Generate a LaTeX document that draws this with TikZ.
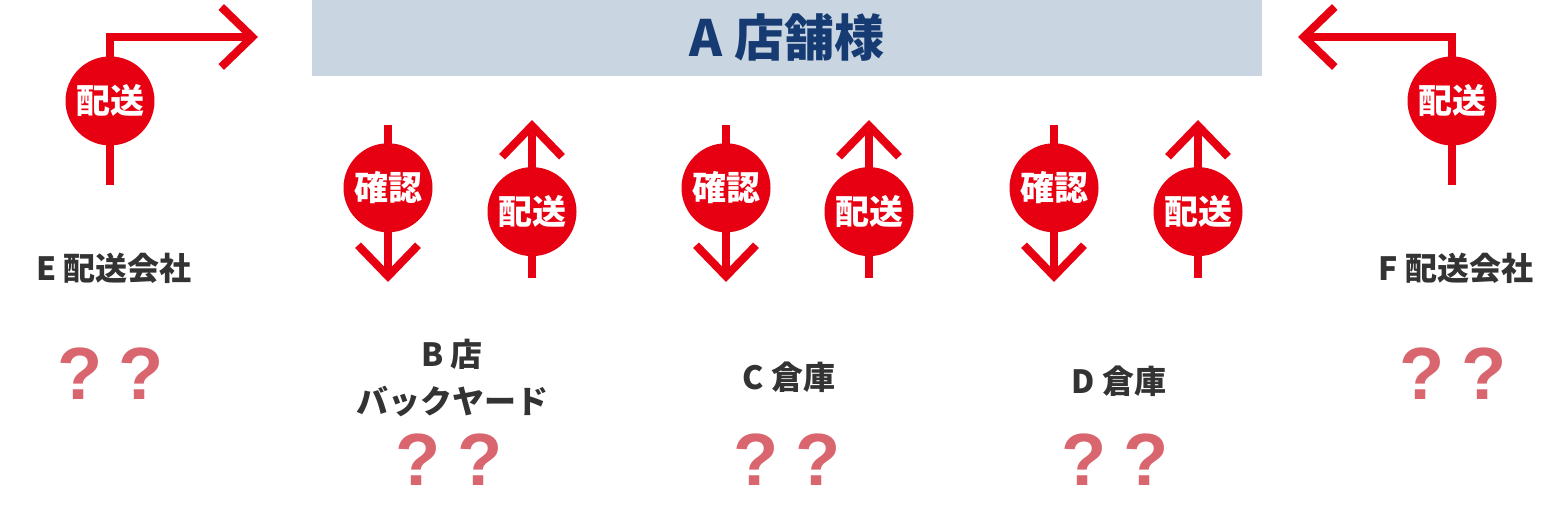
\documentclass[tikz,border=0pt]{standalone}
\usepackage{fontspec}
\setmainfont{Noto Sans CJK JP}
\newfontfamily\qfont{Liberation Sans}
\usepackage{xcolor}
\usetikzlibrary{arrows.meta}
\definecolor{SRed}{HTML}{E60012}
\definecolor{SBanner}{HTML}{C9D6E2}
\definecolor{SNavy}{HTML}{163B72}
\definecolor{SGray}{HTML}{333333}
\definecolor{SPink}{HTML}{D9666F}

\begin{document}
\begin{tikzpicture}[
  x=1pt,y=-1pt,
  shop/.style={fill=SBanner,minimum width=950pt,minimum height=76pt,inner sep=0pt,
    text=SNavy,font=\bfseries\fontsize{50}{56}\selectfont},
  dot/.style={circle,fill=SRed,minimum size=89pt,inner sep=0pt,
    text=white,font=\bfseries\fontsize{34}{38}\selectfont},
  lbl/.style={text=SGray,align=center,font=\bfseries\fontsize{32}{47}\selectfont},
  q/.style={text=SPink,inner sep=0pt,font=\qfont\bfseries\fontsize{74}{80}\selectfont},
  a/.style={draw=SRed,line width=8pt,-{Straight Barb[length=31pt,width=60pt,sharp]}}
]
  \useasboundingbox (0,0) rectangle (1568,518);
  \node[shop] (shop) at (787,38) {A 店舗様};
  % outside carriers
  \coordinate (e-foot) at (110,185);
  \coordinate (e-end) at (258,37);
  \draw[a] (e-foot) |- node[dot,pos=0.284] (e-dlv) {配送} (e-end);
  \coordinate (f-foot) at (1452,185);
  \coordinate (f-end) at (1298,37);
  \draw[a] (f-foot) |- node[dot,pos=0.284] (f-dlv) {配送} (f-end);
  % stock places
  \foreach \k/\xc/\xd in {b/388/532,c/726/869,d/1054/1198}{
    \coordinate (\k-in) at (\xc,125);
    \coordinate (\k-chk-end) at (\xc,282);
    \draw[a] (\k-in) -- node[dot,pos=0.4] (\k-chk) {確認} (\k-chk-end);
    \coordinate (\k-out) at (\xd,278);
    \coordinate (\k-dlv-end) at (\xd,120);
    \draw[a] (\k-out) -- node[dot,pos=0.42] (\k-dlv) {配送} (\k-dlv-end);
  }
  \node[lbl] (e-name) at (114,268) {E 配送会社};
  \node[lbl] (b-name) at (452,377.5) {B 店\\バックヤード};
  \node[lbl] (c-name) at (789,377) {C 倉庫};
  \node[lbl] (d-name) at (1119,381) {D 倉庫};
  \node[lbl] (f-name) at (1456,268) {F 配送会社};
  \node[q] (e-q) at (111,374) {?\hspace{16pt}?};
  \node[q] (b-q) at (449,460) {?\hspace{16pt}?};
  \node[q] (c-q) at (787,460) {?\hspace{16pt}?};
  \node[q] (d-q) at (1115,460) {?\hspace{16pt}?};
  \node[q] (f-q) at (1453,374) {?\hspace{16pt}?};
\end{tikzpicture}
\end{document}
